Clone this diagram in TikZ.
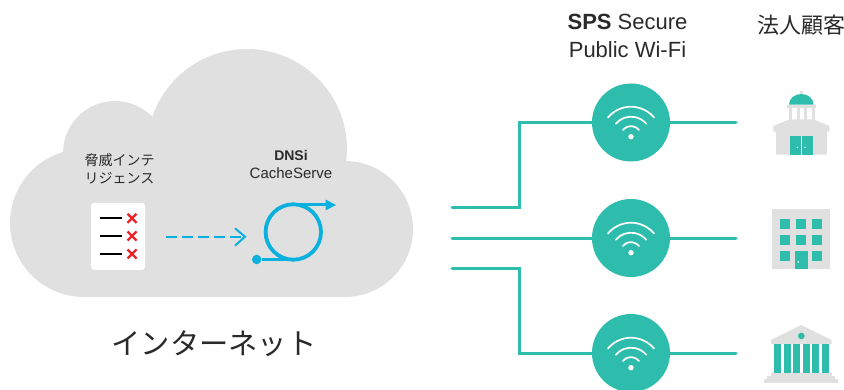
\documentclass[tikz,border=0pt]{standalone}
\usepackage{fontspec}
\setmainfont{Liberation Sans}
\newfontfamily\cjk{Noto Sans CJK JP}
\usetikzlibrary{arrows.meta,calc}
\definecolor{teal1}{HTML}{2EBDAC}
\definecolor{cloud}{HTML}{E0E0E0}
\definecolor{blue1}{HTML}{0BB0DE}
\definecolor{red1}{HTML}{ED2328}
\definecolor{ink}{HTML}{2A2A2A}
\tikzset{
 wire/.style={draw=teal1,line width=3pt,line cap=round},
 hub/.style={circle,fill=teal1,minimum size=78pt,inner sep=0pt},
 wave/.style={draw=white,line width=1.7pt,line cap=round},
 lbl/.style={text=ink,inner sep=0pt,align=center},
 tealf/.style={fill=teal1},
 grayf/.style={fill=cloud},
 bar/.style={draw=black,line width=1.7pt},
 cross/.style={draw=red1,line width=2.4pt},
 cyc/.style={draw=blue1,line width=3.8pt},
 dashline/.style={draw=blue1,line width=2pt}
}
\newcommand{\wifi}[1]{%
 \fill[white] ($(#1)+(0pt,-14.7pt)$) circle (2.7pt);
 \foreach \r in {10.5,20,30}{
  \draw[wave] ($(#1)+(0pt,-14.7pt)+({\r*cos(140)*1pt},{\r*sin(140)*1pt})$) arc[start angle=140,end angle=40,radius=\r pt];
 }}
\begin{document}
\begin{tikzpicture}[x=1pt,y=-1pt]
\useasboundingbox (0,0) rectangle (844,390);
% cloud
\fill[cloud] (84,223) circle (74);
\fill[cloud] (115,153) circle (52);
\fill[cloud] (247,149) circle (100);
\fill[cloud] (345,229) circle (68);
\fill[cloud] (84,170) rectangle (345,297);
% labels
\node[lbl,font=\cjk\fontsize{14}{14}\selectfont] (threat1) at (119.5,160) {脅威インテ};
\node[lbl,font=\cjk\fontsize{14}{14}\selectfont] (threat2) at (119.5,178) {リジェンス};
\node[lbl,font=\bfseries\fontsize{14}{14}\selectfont] (dnsi) at (291,155) {DNSi};
\node[lbl,font=\fontsize{15}{15}\selectfont] (cache) at (291,173) {CacheServe};
\node[lbl,font=\fontsize{22}{22}\selectfont] (sps) at (627.5,22) {\textbf{SPS} Secure};
\node[lbl,font=\fontsize{22}{22}\selectfont] (pub) at (627.5,50) {Public Wi-Fi};
\node[lbl,font=\cjk\fontsize{22}{22}\selectfont] (corp) at (801,25.5) {法人顧客};
\node[lbl,font=\cjk\fontsize{29.3}{29.3}\selectfont] (inet) at (214,344) {インターネット};
% threat card
\node[fill=white,rounded corners=3pt,minimum width=54pt,minimum height=67pt,inner sep=0pt] (card) at (118,236.3) {};
\foreach \y in {218.3,236,254}{
 \draw[bar] (100,\y) -- (122.3,\y);
 \draw[cross] (127.5,\y-4.5) -- (136.5,\y+4.5);
 \draw[cross] (136.5,\y-4.5) -- (127.5,\y+4.5);
}
% dashed arrow
\coordinate (dashA) at (166,236.7);
\coordinate (dashB) at (245,236.7);
\draw[dashline,dash pattern=on 11pt off 5pt] (dashA) -- (244,236.7);
\draw[dashline] (235,228.3) -- (dashB) -- (235,245.7);
% cyclone
\coordinate (cycC) at (293.3,232);
\coordinate (cycT) at (293.3,204.5);
\coordinate (cycB) at (293.3,259.5);
\coordinate (cycTip) at (336,205);
\node[circle,fill=blue1,minimum size=9.5pt,inner sep=0pt] (cycD) at (256.7,259.5) {};
\draw[cyc] (cycC) circle (27.7);
\draw[cyc] (cycD) -- (cycB);
\draw[cyc] (cycT) -- (327,204.5);
\fill[blue1] (cycTip) -- (325.5,199.5) -- (325.5,210.5) -- cycle;
% hubs
\node[hub] (h1) at (631,122.5) {};
\node[hub] (h2) at (631,238) {};
\node[hub] (h3) at (631,353) {};
\coordinate (in1) at (452,207.8); \coordinate (in2) at (452,238.4); \coordinate (in3) at (452,268.8);
\coordinate (out1) at (736,122.5); \coordinate (out2) at (736,238.4); \coordinate (out3) at (736,353.4);
\draw[wire,line join=miter] (in1) -- (519.3,207.8) -- (519.3,122.5) -- (h1);
\draw[wire] (in2) -- (h2.west |- in2);
\draw[wire,line join=miter] (in3) -- (519.3,268.8) -- (519.3,353.4) -- (h3.west |- out3);
\draw[wire] (h1) -- (out1);
\draw[wire] (h2.east |- out2) -- (out2);
\draw[wire] (h3.east |- out3) -- (out3);
\wifi{631,122}
\wifi{631,238}
\wifi{631,353}
% icon 1: domed hall
\begin{scope}[shift={(580,70)},x=0.3333pt,y=-0.3333pt]
 \fill[grayf] (660,62) rectangle (668,74);
 \fill[tealf] (627,104) arc[start angle=180,end angle=0,x radius=37,y radius=-32] -- cycle;
 \fill[grayf] (620,105) rectangle (708,114);
 \foreach \x in {627,650,672,695}{\fill[grayf] (\x,114) rectangle (\x+10,150);}
 \fill[grayf] (580,168) -- (628,148) -- (700,148) -- (748,168) -- (748,185) -- (741,185) -- (741,254) -- (588,254) -- (588,185) -- (580,185) -- cycle;
 \fill[tealf] (630,198) rectangle (699,254);
 \fill[white] (663.5,198) rectangle (665.5,254);
 \fill[white] (652,232) circle (2.2) (675,232) circle (2.2);
\end{scope}
% icon 2: office block
\begin{scope}[shift={(580,190)},x=0.3333pt,y=-0.3333pt]
 \fill[grayf] (576,57) rectangle (750,237);
 \foreach \x in {600,648,696}{\foreach \y in {87,135}{\fill[tealf] (\x,\y) rectangle (\x+30,\y+30);}}
 \fill[tealf] (600,183) rectangle (630,213);
 \fill[tealf] (696,183) rectangle (726,213);
 \fill[tealf] (645,183) rectangle (684,237);
 \fill[white] (655,216) circle (2.5);
\end{scope}
% icon 3: bank
\begin{scope}[shift={(580,190)},x=0.3333pt,y=-0.3333pt]
 \fill[grayf] (664,405) -- (755,450) -- (755,462) -- (573,462) -- (573,450) -- cycle;
 \fill[tealf] (664,438) circle (10);
 \foreach \x/\w in {582/21,612/21,639/21,669/21,696/21,726/21}{\fill[tealf] (\x,462) rectangle (\x+\w,549);}
 \fill[grayf] (573,549) rectangle (756,558);
 \fill[grayf] (561,558) rectangle (765,567);
 \fill[grayf] (552,567) rectangle (774,579);
\end{scope}
\end{tikzpicture}
\end{document}
